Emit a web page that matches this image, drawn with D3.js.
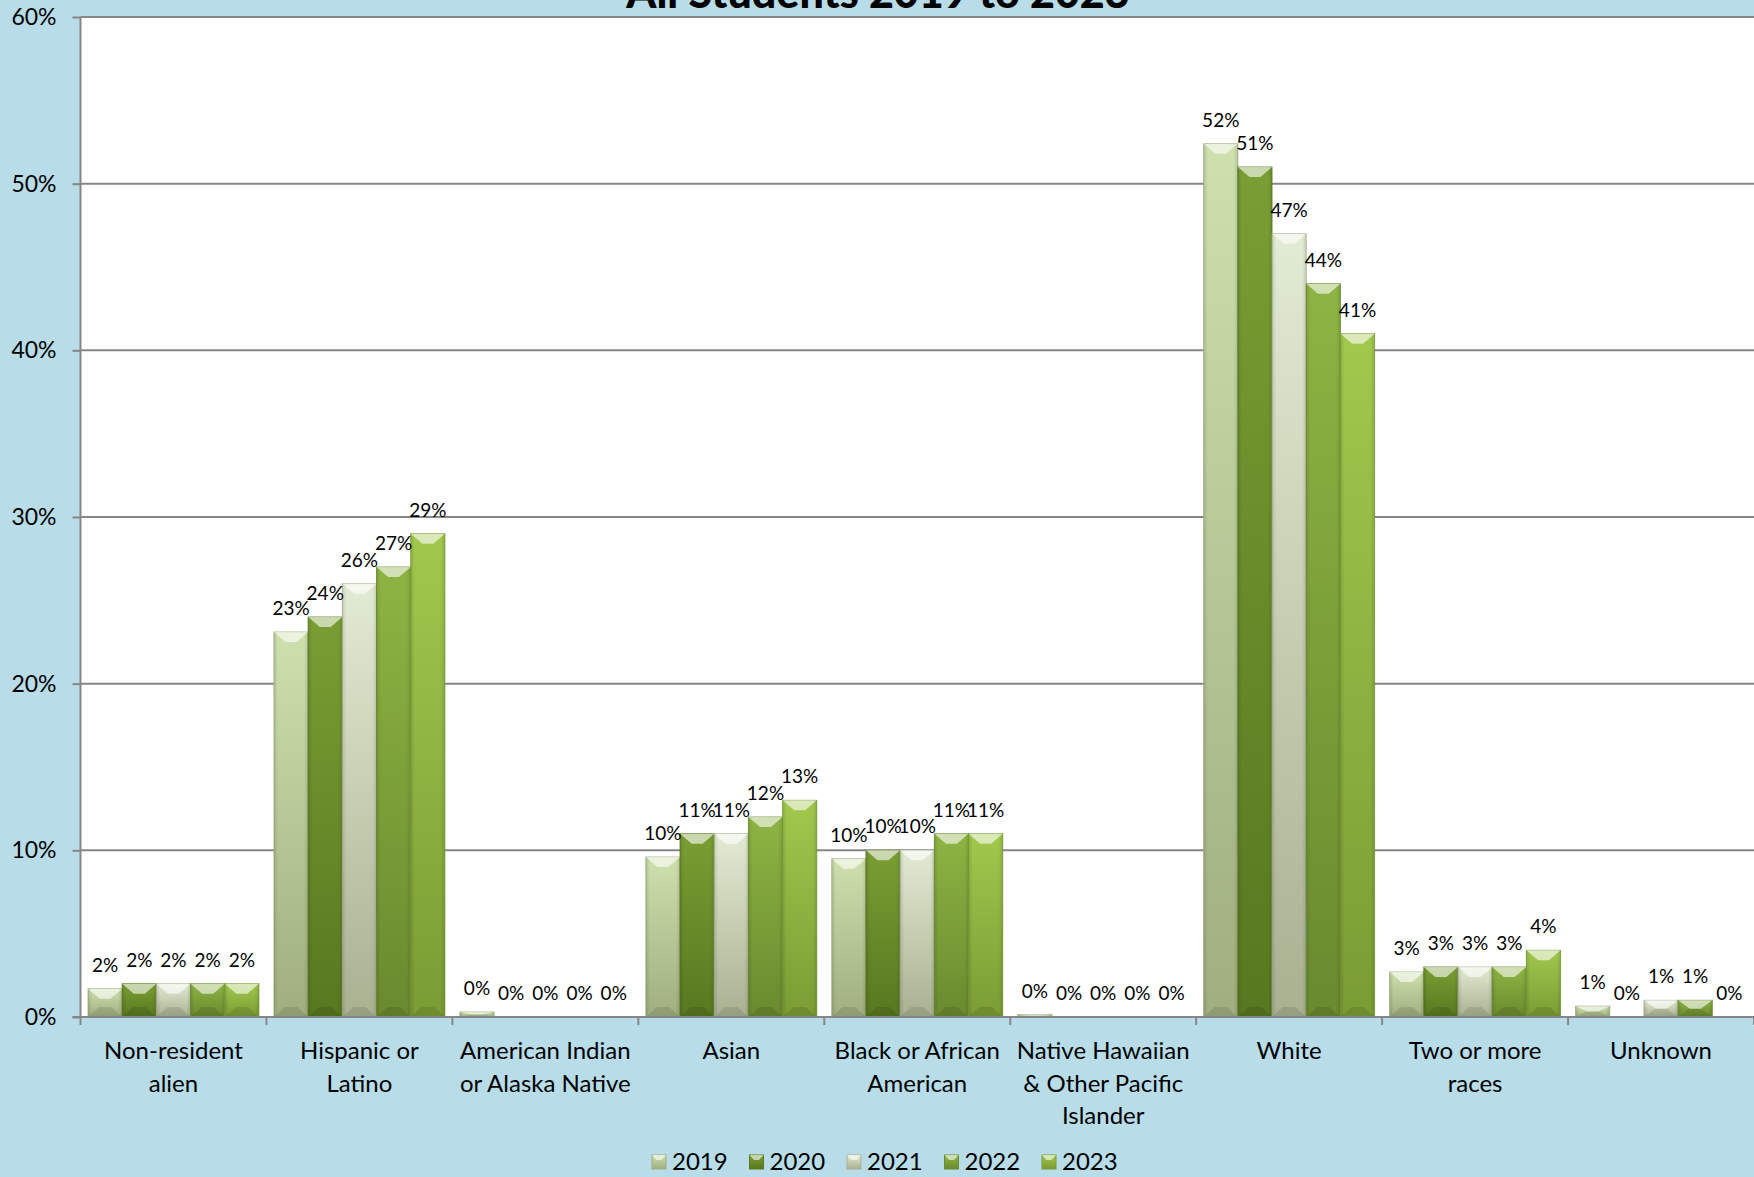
<!DOCTYPE html>
<html lang="en">
<head>
<meta charset="UTF-8">
<title>All Students 2019 to 2023</title>
<style>
  html, body { margin: 0; padding: 0; background: #b8dde8; }
  svg { display: block; font-family: Lato, "Open Sans", sans-serif; }
</style>
</head>
<body>
<script src="https://cdn.jsdelivr.net/npm/d3@7"></script>
<script>
  var categories = [
    ["Non-resident", "alien"],
    ["Hispanic or", "Latino"],
    ["American Indian", "or Alaska Native"],
    ["Asian"],
    ["Black or African", "American"],
    ["Native Hawaiian", "& Other Pacific", "Islander"],
    ["White"],
    ["Two or more", "races"],
    ["Unknown"]
  ];
  var years = ["2019", "2020", "2021", "2022", "2023"];

  // percent of all students, by category, per year
  var v2019 = [1.7, 23.1, 0.3, 9.6, 9.5, 0.15, 52.4, 2.7, 0.65];
  var v2020 = [2.0, 24.0, 0.0, 11.0, 10.0, 0.0, 51.0, 3.0, 0.0];
  var v2021 = [2.0, 26.0, 0.0, 11.0, 10.0, 0.0, 47.0, 3.0, 1.0];
  var v2022 = [2.0, 27.0, 0.0, 12.0, 11.0, 0.0, 44.0, 3.0, 1.0];
  var v2023 = [2.0, 29.0, 0.0, 13.0, 11.0, 0.0, 41.0, 4.0, 0.0];
  var series = [v2019, v2020, v2021, v2022, v2023];

  var yTicks = [0, 10, 20, 30, 40, 50, 60];

  // top / bottom colours of each year's bar
  var colors = [
    ["#cde0ad", "#a0ae80"],
    ["#7a9e33", "#577820"],
    ["#e2ebd3", "#a9b191"],
    ["#8db443", "#6a8a2e"],
    ["#a2c84d", "#7a9c34"]
  ];

  var width = 1754, height = 1177;
  var plotL = 80.5, plotR = 1754, plotT = 17, plotB = 1017;

  var svg = d3.select("body").append("svg")
    .attr("width", width)
    .attr("height", height);

  var defs = svg.append("defs");
  colors.forEach(function (c, i) {
    var g = defs.append("linearGradient")
      .attr("id", "grad" + i)
      .attr("x1", 0).attr("y1", 0).attr("x2", 0).attr("y2", 1);
    g.append("stop").attr("offset", "0%").attr("stop-color", c[0]);
    g.append("stop").attr("offset", "100%").attr("stop-color", c[1]);
  });
  var side = defs.append("linearGradient")
    .attr("id", "side")
    .attr("x1", 0).attr("y1", 0).attr("x2", 1).attr("y2", 0);
  side.append("stop").attr("offset", "0%").attr("stop-color", "#000").attr("stop-opacity", 0.12);
  side.append("stop").attr("offset", "12%").attr("stop-color", "#000").attr("stop-opacity", 0);
  side.append("stop").attr("offset", "88%").attr("stop-color", "#000").attr("stop-opacity", 0);
  side.append("stop").attr("offset", "100%").attr("stop-color", "#000").attr("stop-opacity", 0.12);

  var x0 = d3.scaleBand().domain(d3.range(categories.length)).range([plotL, plotR]).padding(0);
  var x1 = d3.scaleBand().domain(d3.range(years.length)).range([7.5, x0.bandwidth() - 7.5]).padding(0);
  var y = d3.scaleLinear().domain([0, 60]).range([plotB, plotT]);

  // plot area
  svg.append("rect")
    .attr("x", plotL).attr("y", plotT)
    .attr("width", plotR - plotL).attr("height", plotB - plotT)
    .attr("fill", "#fff");

  // title (cut off at top as in the source)
  svg.append("text")
    .attr("x", 878).attr("y", 8)
    .attr("text-anchor", "middle")
    .attr("font-size", 43)
    .attr("font-weight", "900")
    .attr("fill", "#000")
    .text("All Students 2019 to 2023");

  // y axis with gridlines
  var yAxis = svg.append("g")
    .attr("transform", "translate(" + plotL + ",0)")
    .call(d3.axisLeft(y).tickValues(yTicks).tickSize(8).tickFormat(function (d) { return d + "%"; }));
  yAxis.select(".domain").remove();
  yAxis.selectAll(".tick line").attr("stroke", "#868686").attr("stroke-width", 2);
  yAxis.selectAll(".tick text")
    .attr("x", -24)
    .attr("font-family", "Lato, sans-serif")
    .attr("font-size", 23)
    .attr("fill", "#000");

  svg.append("g").selectAll("line")
    .data(yTicks)
    .enter().append("line")
    .attr("x1", plotL).attr("x2", plotR)
    .attr("y1", function (d) { return y(d); })
    .attr("y2", function (d) { return y(d); })
    .attr("stroke", "#868686")
    .attr("stroke-width", 2);

  svg.append("line")
    .attr("x1", plotL).attr("x2", plotL)
    .attr("y1", plotT).attr("y2", plotB)
    .attr("stroke", "#868686").attr("stroke-width", 2);

  // bars
  var groups = svg.append("g").selectAll("g")
    .data(categories)
    .enter().append("g")
    .attr("transform", function (d, i) { return "translate(" + x0(i) + ",0)"; });

  groups.each(function (cat, ci) {
    var g = d3.select(this);
    series.forEach(function (vals, si) {
      var v = vals[ci];
      if (v <= 0) return;
      var bx = x1(si), bw = x1.bandwidth();
      var by = y(v), bh = y(0) - y(v);
      g.append("rect")
        .attr("x", bx).attr("y", by)
        .attr("width", bw).attr("height", bh)
        .attr("fill", "url(#grad" + si + ")")
        .attr("stroke", colors[si][1])
        .attr("stroke-opacity", 0.8)
        .attr("stroke-width", 1);
      g.append("rect")
        .attr("x", bx).attr("y", by)
        .attr("width", bw).attr("height", bh)
        .attr("fill", "url(#side)");
      // bevel highlight on top, shade on bottom
      var d = Math.min(10, bh / 2);
      g.append("path")
        .attr("d", "M" + bx + "," + by + "L" + (bx + bw) + "," + by +
          "L" + (bx + bw * 0.66) + "," + (by + d) + "L" + (bx + bw * 0.34) + "," + (by + d) + "Z")
        .attr("fill", "#fff").attr("fill-opacity", 0.6);
      g.append("path")
        .attr("d", "M" + bx + "," + (by + bh) + "L" + (bx + bw) + "," + (by + bh) +
          "L" + (bx + bw * 0.68) + "," + (by + bh - d) + "L" + (bx + bw * 0.32) + "," + (by + bh - d) + "Z")
        .attr("fill", "#000").attr("fill-opacity", 0.1);
    });

    // data labels
    series.forEach(function (vals, si) {
      var v = vals[ci];
      g.append("text")
        .attr("x", x1(si) + x1.bandwidth() / 2)
        .attr("y", y(v) - 17)
        .attr("text-anchor", "middle")
        .attr("font-size", 19)
        .attr("fill", "#000")
        .text(Math.round(v) + "%");
    });

    // category label
    g.append("text")
      .attr("text-anchor", "middle")
      .attr("font-size", 24)
      .attr("fill", "#000")
      .selectAll("tspan")
      .data(cat)
      .enter().append("tspan")
      .attr("x", x0.bandwidth() / 2)
      .attr("y", function (d, i) { return 1059 + i * 32.5; })
      .text(function (d) { return d; });
  });

  // x axis line and ticks at category boundaries
  svg.append("line")
    .attr("x1", plotL - 8).attr("x2", plotR)
    .attr("y1", plotB).attr("y2", plotB)
    .attr("stroke", "#868686").attr("stroke-width", 2);
  svg.append("g").selectAll("line")
    .data(d3.range(categories.length + 1))
    .enter().append("line")
    .attr("x1", function (i) { return plotL + i * x0.bandwidth(); })
    .attr("x2", function (i) { return plotL + i * x0.bandwidth(); })
    .attr("y1", plotB).attr("y2", plotB + 8)
    .attr("stroke", "#868686").attr("stroke-width", 2);

  // legend
  var legend = svg.append("g").selectAll("g")
    .data(years)
    .enter().append("g")
    .attr("transform", function (d, i) { return "translate(" + (652 + i * 97.5) + ",1155)"; });
  legend.append("rect")
    .attr("width", 14).attr("height", 14)
    .attr("fill", function (d, i) { return "url(#grad" + i + ")"; })
    .attr("stroke", function (d, i) { return colors[i][1]; })
    .attr("stroke-width", 1);
  legend.append("path")
    .attr("d", "M0,0L14,0L9.5,5L4.5,5Z")
    .attr("fill", "#fff").attr("fill-opacity", 0.6);
  legend.append("text")
    .attr("x", 20).attr("y", 15)
    .attr("font-size", 24)
    .attr("fill", "#000")
    .text(function (d) { return d; });
</script>
</body>
</html>
